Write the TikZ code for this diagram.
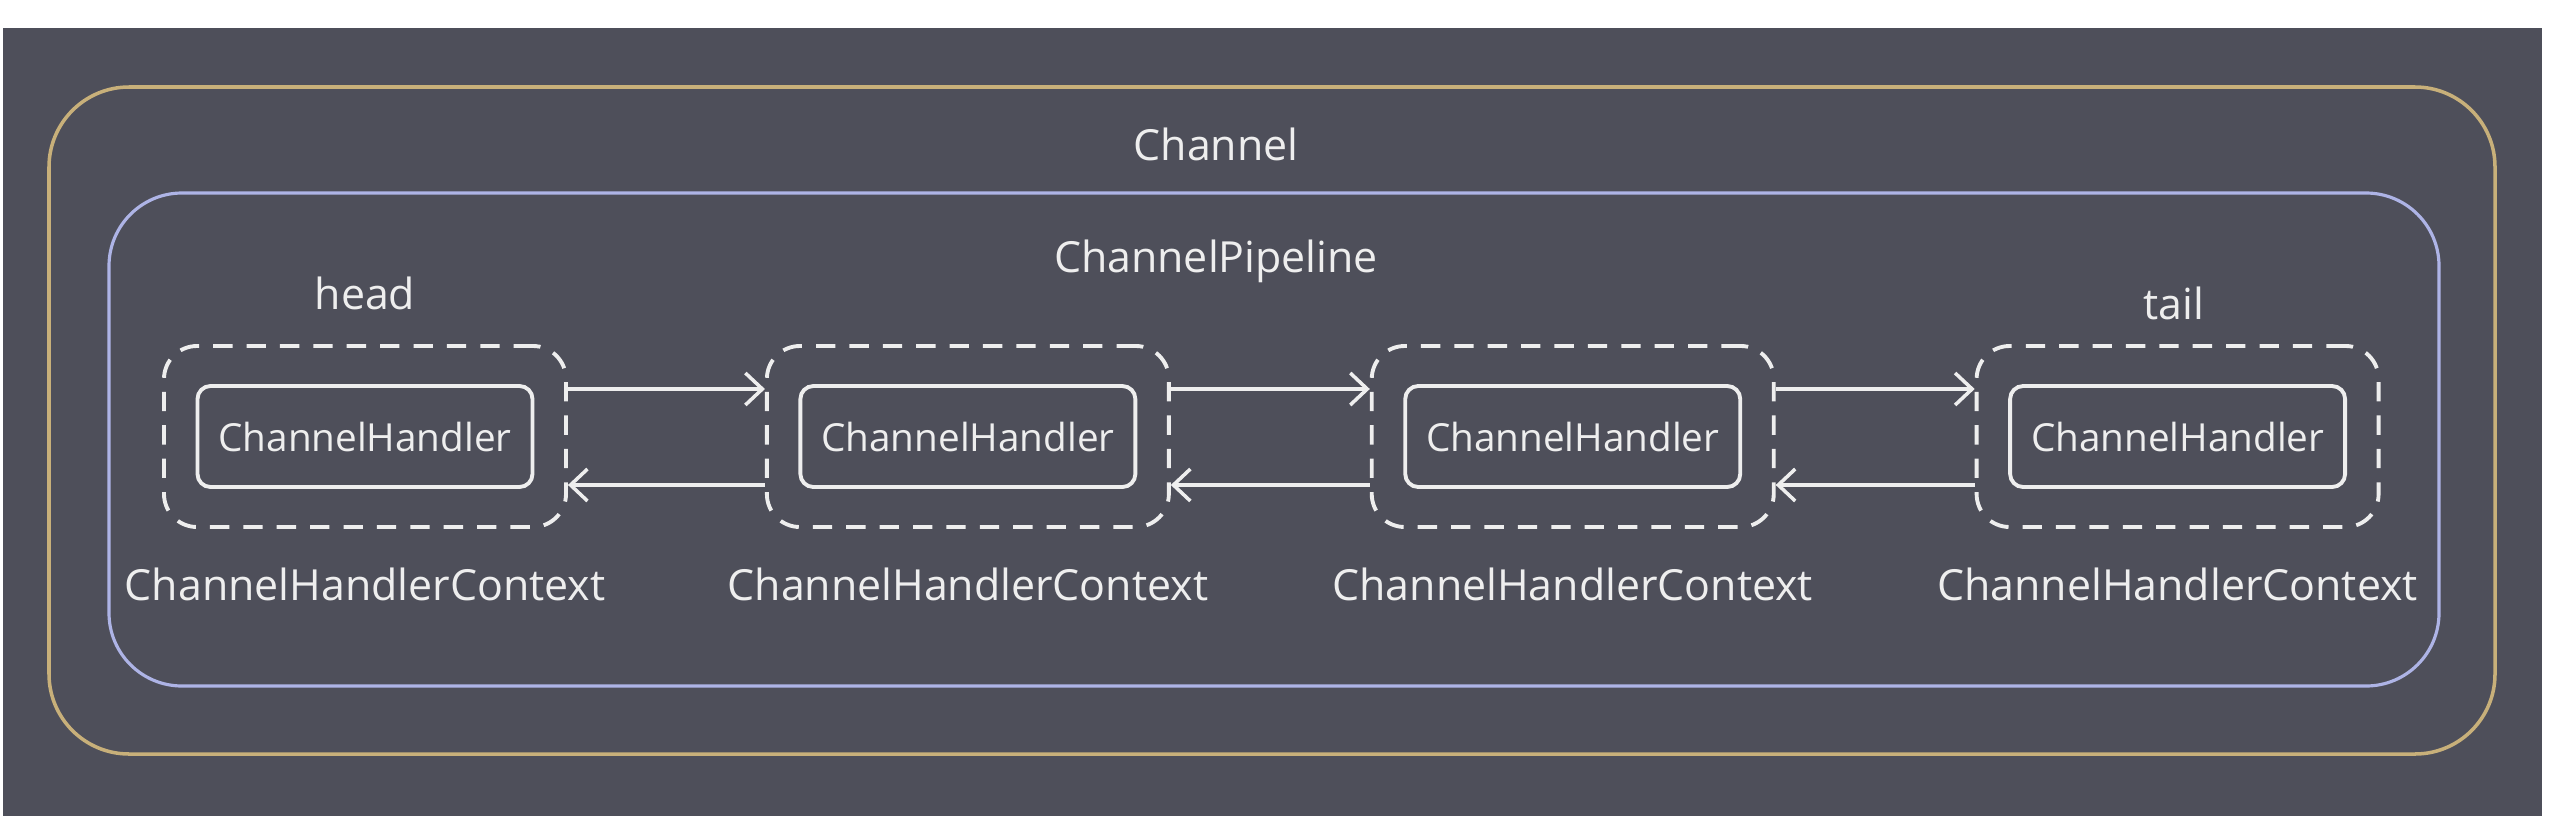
\documentclass[tikz,border=0pt]{standalone}
\usepackage{fontspec}
\setmainfont{Open Sans}
\usepackage{tikz}
\usetikzlibrary{positioning, arrows.meta}
\tikzset{>={Straight Barb[length=1.7mm, width=3.2mm]}}
\definecolor{bgdark}{HTML}{4E4F5A}
\definecolor{chgold}{HTML}{C8B07A}
\definecolor{pipeblue}{HTML}{AEB4E6}
\definecolor{txtwhite}{HTML}{EEEEEE}

\begin{document}
\begin{tikzpicture}
    [every node/.style={text=txtwhite, font=\fontsize{12.2}{14}\selectfont},
     ctx/.style={draw=txtwhite, line width=1.1pt, dash pattern=on 5.5pt off 4pt, rounded corners=3.3mm, minimum width=4.02cm, minimum height=1.81cm},
     handler/.style={draw=txtwhite, line width=1.1pt, rounded corners=1.3mm, minimum width=3.35cm, minimum height=1.01cm, font=\fontsize{11}{13}\selectfont},
     link/.style={draw=txtwhite, line width=1pt}]
    \useasboundingbox (0,0) rectangle (25.6,-8.31);
    \fill[white] (0,0) rectangle (25.6,-8.31);
    \fill[bgdark] (0.03,-0.28) rectangle (25.42,-8.16);
    \draw[chgold, line width=1pt, rounded corners=8mm] (0.49,-0.87) rectangle (24.95,-7.54);
    \draw[pipeblue, line width=0.9pt, rounded corners=7.3mm] (1.09,-1.93) rectangle (24.39,-6.86);

    \node (channel) at (12.16,-1.44) {Channel};
    \node (pipeline) at (12.16,-2.61) {ChannelPipeline};

    \node[ctx] (c1) at (3.65,-4.365) {};
    \node[ctx, right=1.97cm of c1] (c2) {};
    \node[ctx, right=1.99cm of c2] (c3) {};
    \node[ctx, right=1.99cm of c3] (c4) {};

    \node[handler] (h1) at (c1) {ChannelHandler};
    \node[handler] (h2) at (c2) {ChannelHandler};
    \node[handler] (h3) at (c3) {ChannelHandler};
    \node[handler] (h4) at (c4) {ChannelHandler};

    \node[above=0.22cm of c1] (head) {head};
    \node[above=0.12cm of c4, xshift=-0.04cm] (tail) {tail};

    \node[below=0.27cm of c1] (ctx1) {ChannelHandlerContext};
    \node[below=0.27cm of c2] (ctx2) {ChannelHandlerContext};
    \node[below=0.27cm of c3] (ctx3) {ChannelHandlerContext};
    \node[below=0.27cm of c4] (ctx4) {ChannelHandlerContext};

    \draw[link, ->] ([yshift=0.475cm]c1.east) -- ([yshift=0.475cm]c2.west);
    \draw[link, ->] ([yshift=0.475cm]c2.east) -- ([yshift=0.475cm]c3.west);
    \draw[link, ->] ([yshift=0.475cm]c3.east) -- ([yshift=0.475cm]c4.west);
    \draw[link, ->] ([yshift=-0.485cm]c2.west) -- ([yshift=-0.485cm]c1.east);
    \draw[link, ->] ([yshift=-0.485cm]c3.west) -- ([yshift=-0.485cm]c2.east);
    \draw[link, ->] ([yshift=-0.485cm]c4.west) -- ([yshift=-0.485cm]c3.east);
  \end{tikzpicture}
\end{document}
